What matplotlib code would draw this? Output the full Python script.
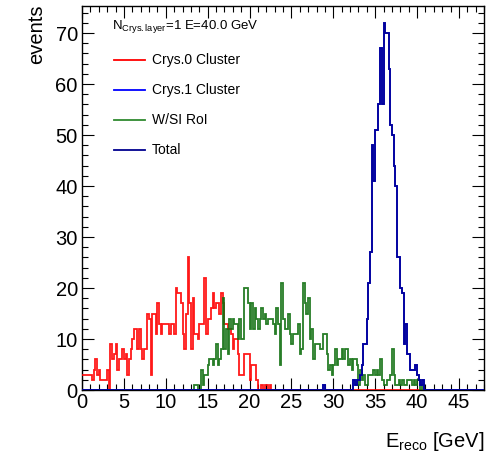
import numpy as np
import matplotlib
matplotlib.use("Agg")
import matplotlib.pyplot as plt

plt.rcParams["font.family"] = ["Liberation Sans", "DejaVu Sans"]
plt.rcParams["mathtext.fontset"] = "custom"
plt.rcParams["mathtext.rm"] = "Liberation Sans"
plt.rcParams["mathtext.it"] = "Liberation Sans:italic"

# Binning: 0.2 GeV bins from 0 to 48 GeV
bin_width = 0.2
n_bins = 240

# Crys.0 cluster energy (first bin index, counts per bin)
crys0_start = 0
crys0_counts = [3, 3, 3, 3, 3, 3, 2, 4, 6, 3, 4, 2, 2, 2, 2, 4, 0, 9, 6, 7,
                9, 4, 6, 6, 8, 6, 7, 3, 6, 8, 10, 12, 12, 8, 12, 8, 6, 8, 8, 15,
                14, 3, 15, 15, 11, 17, 13, 11, 13, 13, 13, 13, 11, 13, 13, 11, 20, 19, 19, 17,
                11, 8, 15, 26, 17, 8, 18, 11, 11, 10, 13, 13, 13, 22, 11, 14, 14, 16, 19, 16,
                17, 17, 15, 19, 17, 13, 13, 12, 12, 11, 8, 10, 10, 7, 3, 3, 3, 7, 7, 7,
                2, 5, 5, 5, 2, 0, 0, 1, 0, 1, 1, 0, 1]

# W/SI RoI energy
wsi_start = 66
wsi_counts = [0, 1, 1, 0, 0, 4, 1, 3, 3, 5, 6, 6, 5, 6, 9, 5, 6, 8, 18, 8,
              12, 7, 14, 12, 14, 13, 13, 10, 14, 10, 10, 20, 20, 17, 12, 17, 12, 16, 14, 12,
              14, 16, 14, 15, 13, 14, 14, 14, 13, 11, 16, 13, 5, 21, 14, 12, 12, 15, 11, 9,
              11, 11, 11, 13, 7, 8, 21, 17, 15, 18, 10, 12, 6, 9, 9, 9, 8, 8, 11, 11,
              7, 4, 5, 3, 5, 8, 5, 6, 6, 8, 6, 8, 8, 5, 6, 4, 6, 6, 5, 1,
              4, 2, 3, 1, 1, 3, 3, 3, 4, 3, 4, 3, 6, 2, 1, 1, 2, 2, 3, 8,
              3, 1, 1, 2, 1, 2, 1, 1, 2, 2, 2, 1, 2, 1, 2, 2, 0, 1]

# Crys.1 cluster energy
crys1_start = 144
crys1_counts = [1, 0, 0, 0, 0, 0, 0, 0, 0, 0, 0, 0, 0, 0, 0, 0, 0, 0, 2, 1,
                2, 2, 3, 5, 9, 9, 14, 21, 27, 48, 41, 51, 51, 56, 67, 56, 72, 70, 70, 63,
                52, 50, 44, 40, 26, 26, 20, 19, 9, 13, 7, 7, 4, 4, 4, 5, 3, 2, 1, 2]

# Total reconstructed energy
total_start = 144
total_counts = [1, 0, 0, 0, 0, 0, 0, 0, 0, 0, 0, 0, 0, 0, 0, 0, 0, 0, 2, 1,
                2, 2, 3, 5, 9, 9, 14, 21, 27, 48, 41, 51, 51, 56, 67, 56, 72, 70, 70, 63,
                52, 50, 44, 40, 26, 26, 20, 19, 9, 13, 7, 7, 4, 4, 4, 5, 3, 2, 1, 2]

labels = ["Crys.0 Cluster", "Crys.1 Cluster", "W/SI RoI", "Total"]
colors = ["#ff0000", "#0000ff", "#0f6f0f", "#00008f"]
legend_colors = ["#ff0000", "#0000ff", "#2f8a2f", "#00008f"]

edges = np.arange(n_bins + 1) * bin_width


def full_hist(start, counts):
    h = np.zeros(n_bins)
    h[start:start + len(counts)] = counts
    return h


fig = plt.figure(figsize=(4.86, 4.58), dpi=100)
W, H = 486, 458
ax = fig.add_axes([82 / W, 1 - 390 / H, 402 / W, 384 / H])

series = {
    "Crys.0 Cluster": full_hist(crys0_start, crys0_counts),
    "Crys.1 Cluster": full_hist(crys1_start, crys1_counts),
    "W/SI RoI": full_hist(wsi_start, wsi_counts),
    "Total": full_hist(total_start, total_counts),
}
draw_order = ["Crys.0 Cluster", "W/SI RoI", "Crys.1 Cluster", "Total"]
color_of = dict(zip(labels, colors))
for name in draw_order:
    ax.stairs(series[name], edges, color=color_of[name], lw=1.3, alpha=0.9,
              baseline=None, zorder=3)

ax.set_xlim(0, 48)
ax.set_ylim(0, 75.3)
ax.set_xticks(np.arange(0, 46, 5))
ax.set_xticks(np.arange(0, 49, 1), minor=True)
ax.set_yticks(np.arange(0, 71, 10))
ax.set_yticks(np.arange(0, 76, 2), minor=True)
ax.tick_params(which="both", direction="in", top=True, right=True,
               labelsize=14.5, width=0.8, color="black")
ax.tick_params(which="major", length=8.6)
ax.tick_params(which="minor", length=4.3)
ax.tick_params(axis="x", pad=2)
ax.tick_params(axis="y", pad=3)
for sp in ax.spines.values():
    sp.set_linewidth(1.0)

# Legend drawn by hand in pixel-based axes positions
def to_ax(px, py):
    return (px - 82) / 402, (390 - py) / 384

tx, ty = to_ax(112, 27)
ax.text(tx, ty, r"N$_{\mathrm{Crys.layer}}$=1 E=40.0 GeV", transform=ax.transAxes,
        fontsize=9.5, ha="left", va="center")
for k, name in enumerate(labels):
    py = 60 + 30 * k
    x0, y0 = to_ax(114, py)
    x1, _ = to_ax(145, py)
    ax.plot([x0, x1], [y0, y0], transform=ax.transAxes, color=legend_colors[k], lw=1.3)
    xt, _ = to_ax(152, py)
    ax.text(xt, y0, name, transform=ax.transAxes, fontsize=10, ha="left", va="center")

fig.text(37 / W, 1 - 4 / H, "events", rotation=90, fontsize=14.5, ha="center", va="top")
fig.text(484 / W, 1 - 447 / H, r"E$_{\mathrm{reco}}$ [GeV]", fontsize=14.5,
         ha="right", va="baseline")

fig.savefig("out.png", dpi=100)
